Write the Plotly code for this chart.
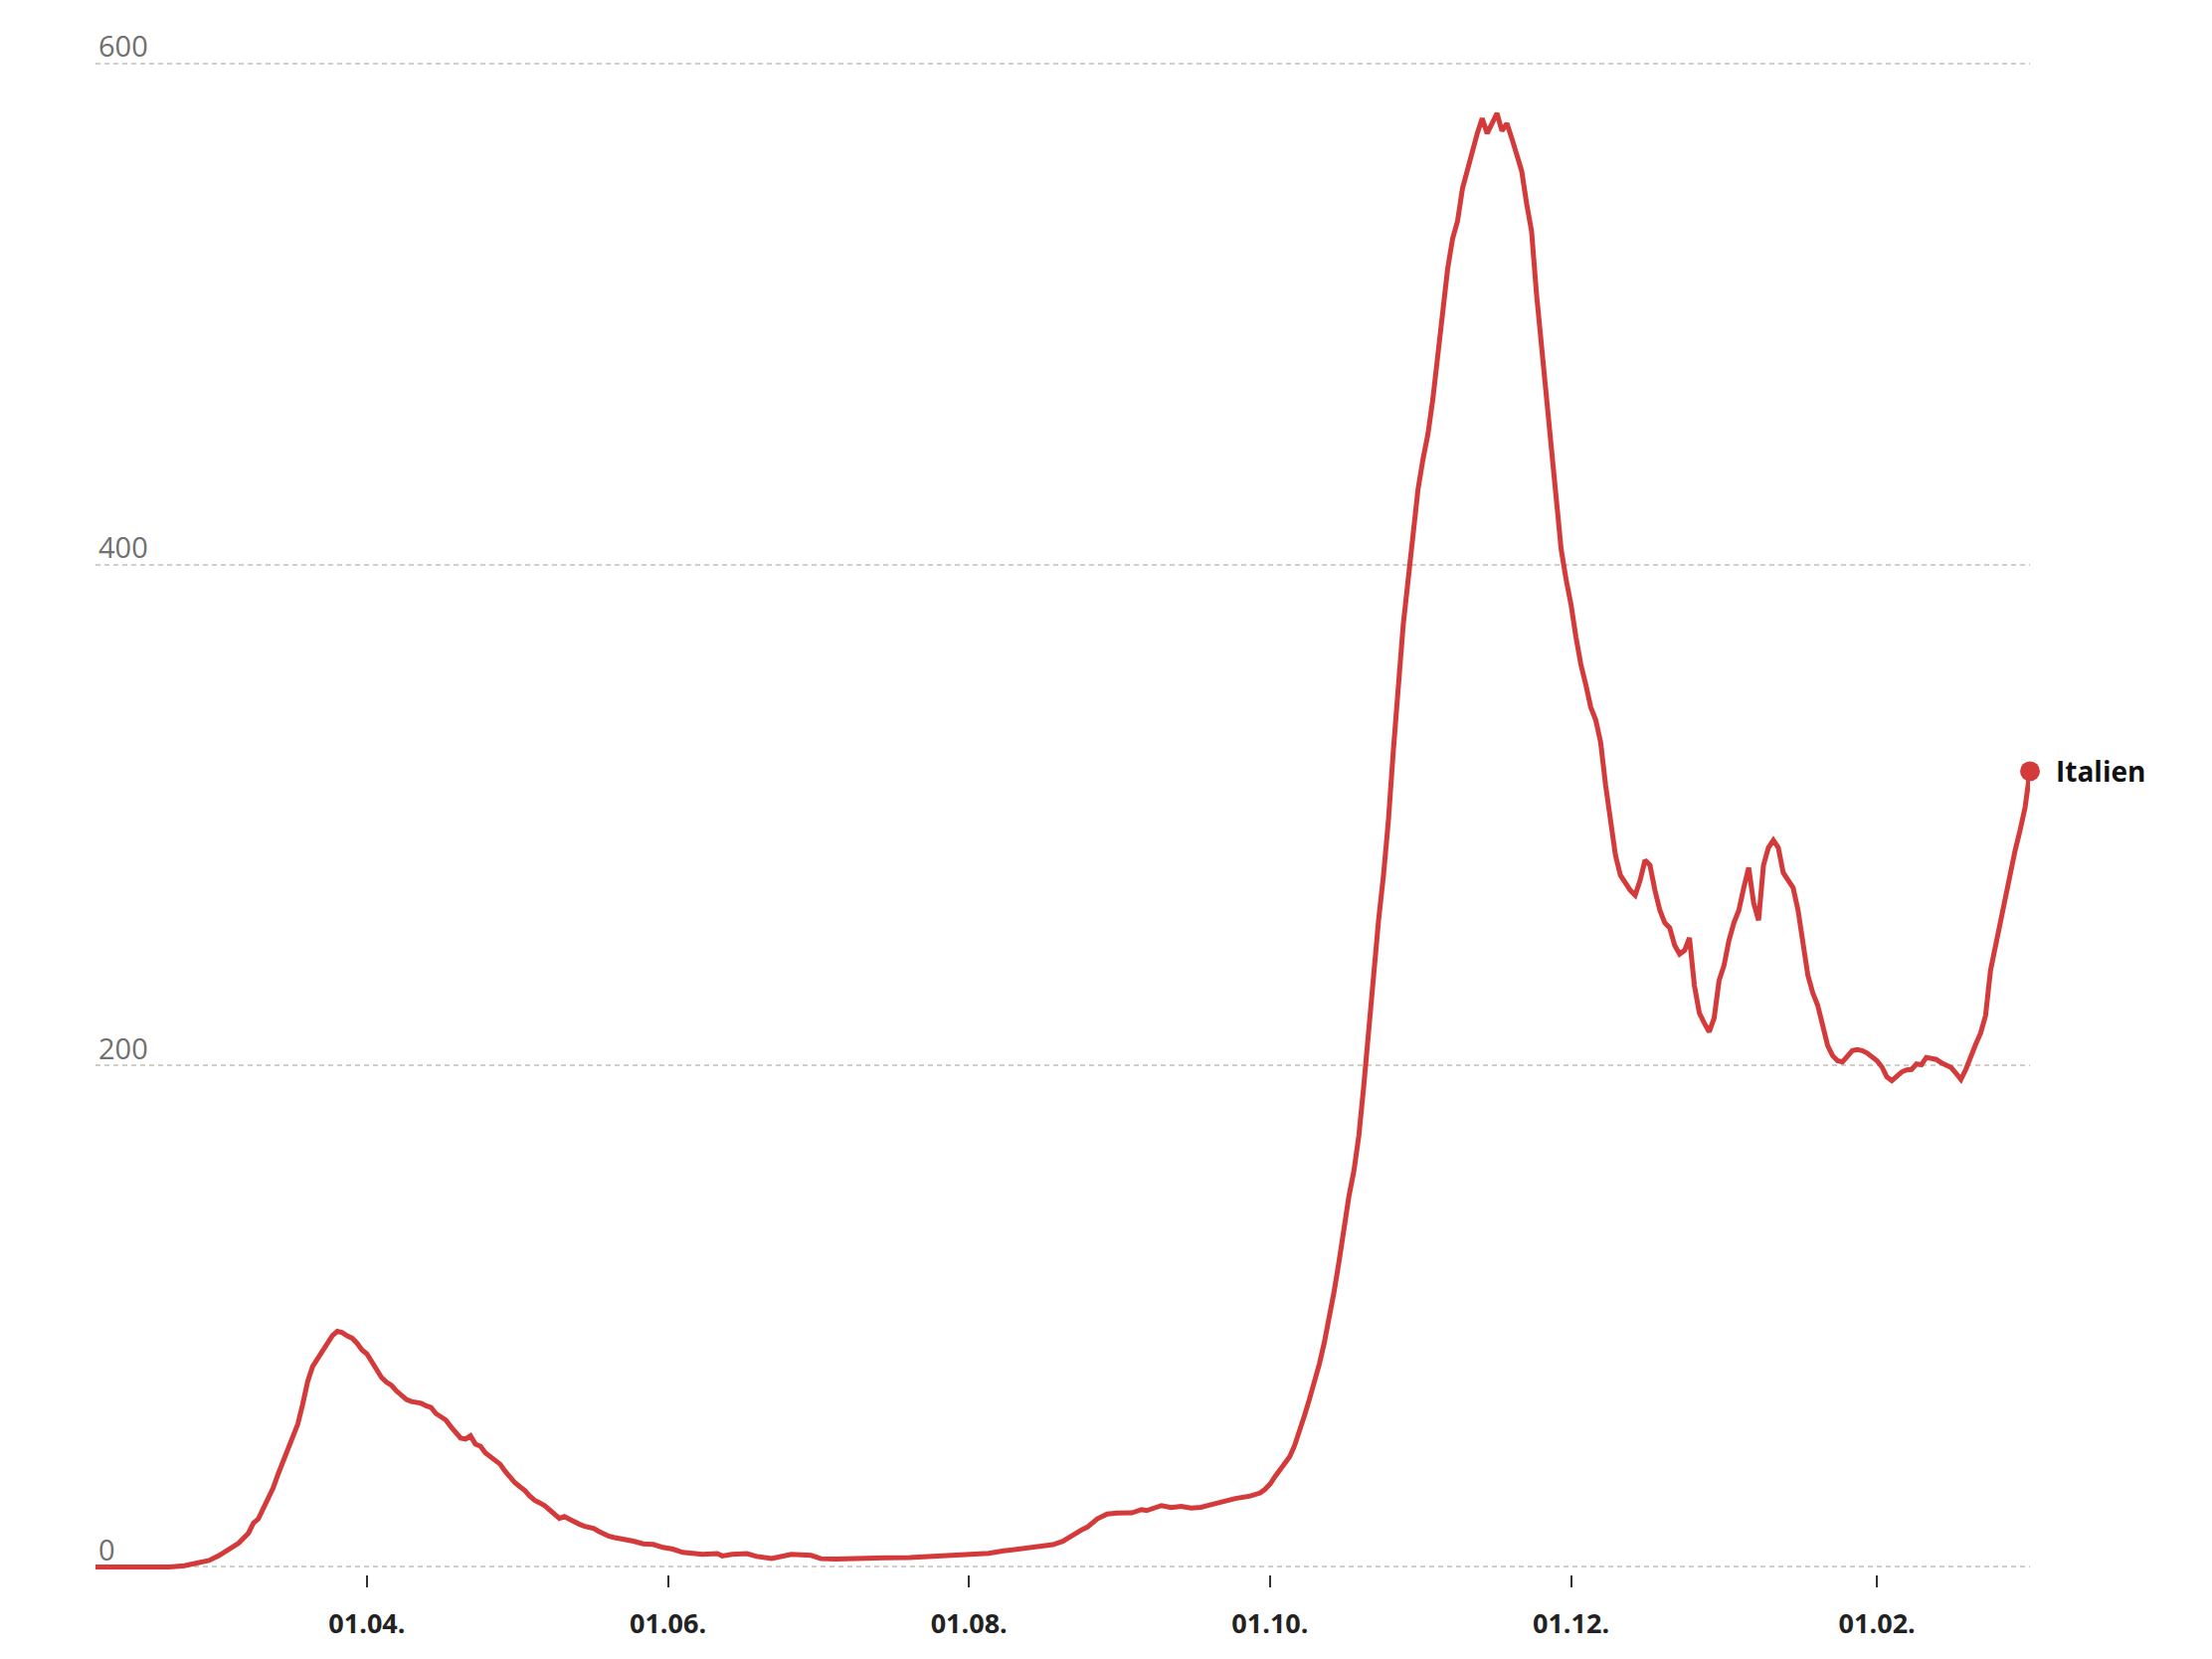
import plotly.graph_objects as go
import pandas as pd

# ---------------- data ----------------
base_date = "2020-04-01"  # day offset 0

day_offset = [
    -55, -45, -40, -37, -34, -32, -30, -28, -26, -24, -23, -22, -20, -19, -18,
    -17, -16, -15, -14, -13, -12, -11, -10, -9, -8, -7, -6, -5, -4, -3, -2, -1,
    0, 1, 2, 3, 4, 5, 6, 7, 8, 9, 10, 11, 12, 13, 14, 15, 16, 17, 18, 19, 20,
    21, 22, 23, 24, 25, 26, 27, 28, 29, 30, 31, 32, 33, 34, 35, 36, 37, 38, 39,
    40, 41, 42, 43, 44, 45, 46, 47, 48, 49, 50, 52, 54, 56, 58, 60, 62, 64, 66,
    68, 70, 71, 72, 74, 77, 79, 82, 84, 86, 90, 92, 95, 100, 105, 110, 113, 117,
    120, 124, 126, 129, 131, 134, 137, 139, 141, 143, 145, 146, 147, 148, 150,
    152, 155, 157, 158, 160, 161, 163, 165, 167, 169, 171, 173, 176, 179, 181,
    182,
    183, 184, 185, 186, 187, 188, 189, 190, 191, 192, 193, 194, 195, 196, 197,
    198, 199, 200, 201, 202, 203, 204, 205, 206, 207, 208, 209, 210, 211, 212,
    213, 214, 215, 216, 217, 218, 219, 220, 221, 222, 223, 224, 225, 226, 227,
    228, 229, 230, 231, 232, 233, 234, 235, 236, 237, 238, 239, 240, 241, 242,
    243, 244, 245, 246, 247, 248, 249, 250, 251, 252, 253, 254, 255, 256, 257,
    258, 259, 260, 261, 262, 263, 264, 265, 266, 267, 268, 269, 270, 271, 272,
    273, 274, 275, 276, 277, 278, 279, 280, 281, 282, 283, 284, 285, 286, 287,
    288, 289, 290, 291, 292, 293, 294, 295, 296, 297, 298, 299, 300, 301, 302,
    303, 304, 305, 306, 307, 308, 309, 310, 311, 312, 313, 314, 315, 316, 317,
    318, 319, 320, 321, 322, 323, 324, 325, 326, 327, 328, 329, 330, 331, 332,
    333, 334, 335, 336, 337,
]

incidence = [
    0, 0, 0, 0.5, 1.5, 2.6, 4.5, 6.8, 9.5, 13.5, 17.5, 19.2, 27.5, 31.5, 37,
    42, 46, 52, 57, 65, 74, 80, 83, 86, 89.5, 92.3, 94, 93.5, 92.2, 91.3, 89.3, 86.6,
    85, 82, 78.5, 75.5, 73.7, 72.4, 70.2, 68.2, 66.8, 66, 65.6, 65.3, 64.3, 63.6, 61.2, 60, 58.6, 56, 53.5, 51.4, 51,
    52.3, 49, 48.2, 45.5, 44, 42.8, 41, 38.2, 35.8, 33.6, 32, 30.5, 28.3, 26.6, 25.6, 24.5, 22.8, 21.1, 19.4,
    20.1, 19, 18, 17.1, 16.3, 15.8, 15.3, 14.2, 13, 12.3, 11.8, 11.2, 10.3, 9.2, 9.0, 7.8, 7.1, 5.8, 5.2,
    5.0, 5.2, 5.3, 4.4, 5.0, 5.3, 4.2, 3.4, 4.2, 5.0, 4.6, 3.3, 3.2, 3.6, 3.6, 3.7, 4.1, 4.6,
    5.0, 5.2, 5.4, 6.4, 7.0, 7.7, 8.6, 8.9, 10.2, 12.8, 15, 15.9, 17.5, 19.2, 21.1,
    21.5, 21.6, 22.9, 22.5, 23.6, 24.5, 23.7, 24.2, 23.5, 23.8, 24.8, 26, 27.3, 28.3, 29.5,
    31,
    33, 36, 38.5, 41, 44, 48.5, 54, 60.5, 67, 73.5, 81, 89.5, 99, 110, 122,
    136, 148, 158, 172, 192, 215, 238, 258, 276, 298, 326, 354, 376, 394, 414,
    430, 442, 452, 466, 484, 502, 518, 530, 537, 550, 558, 565, 572, 578, 572,
    576, 580, 573, 576, 570, 563, 557, 544, 533, 508, 488, 470, 448, 425, 406,
    394, 384, 371, 360, 352, 343, 338, 329, 312, 298, 284, 276, 273, 270, 268,
    274, 282, 280, 270, 262, 257, 255, 248, 244.5, 246, 251, 232, 221, 217, 213.5,
    219, 234, 240, 250, 257, 262, 271, 279, 265, 258, 280, 287, 290, 287, 277,
    274, 271, 262, 248, 236, 229, 224, 216, 208, 204, 202, 201.5, 204, 206, 206.4,
    206, 205, 203.5, 202, 199.5, 195.5, 194, 195.8, 197.5, 198.3, 198.5, 200.7, 200.4, 203.3, 202.7,
    202.5, 201.2, 200, 199.3, 197, 194.5, 198.5, 204, 208.5, 213, 220, 238, 248, 258, 268,
    277, 286, 294, 303, 317.5,
]

tick_dates = ["2020-04-01", "2020-06-01", "2020-08-01", "2020-10-01", "2020-12-01", "2021-02-01"]
tick_labels = ["01.04.", "01.06.", "01.08.", "01.10.", "01.12.", "01.02."]
y_ticks = [0, 200, 400, 600]
series_name = "Italien"

# ---------------- styling ----------------
RED = "#d43a3a"
GRID = "#cfcfc8"
FONT = "Open Sans"

dates = pd.Timestamp(base_date) + pd.to_timedelta(day_offset, unit="D")

fig = go.Figure()
fig.add_trace(go.Scatter(
    x=dates, y=incidence, mode="lines",
    line=dict(color=RED, width=5),
    hoverinfo="skip", showlegend=False,
))
fig.add_trace(go.Scatter(
    x=[dates[-1]], y=[incidence[-1]], mode="markers",
    marker=dict(color=RED, size=20),
    cliponaxis=False, hoverinfo="skip", showlegend=False,
))
fig.add_annotation(
    x=dates[-1], y=incidence[-1], text=series_name,
    showarrow=False, xanchor="left", yanchor="middle", xshift=24,
    font=dict(family=FONT, size=28, color="#111111", weight=700),
)

fig.update_layout(
    width=2224, height=1668,
    margin=dict(l=96, r=183, t=56, b=85),
    paper_bgcolor="white", plot_bgcolor="white",
    xaxis=dict(
        range=[dates[0], dates[-1]],
        tickmode="array", tickvals=tick_dates, ticktext=tick_labels,
        ticks="outside", ticklen=12, tickwidth=2, tickcolor="#333333",
        showgrid=False, zeroline=False, showline=False,
        ticklabelstandoff=14,
        tickfont=dict(family=FONT, size=27, color="#222222", weight=700),
    ),
    yaxis=dict(
        range=[-3, 603],
        tickmode="array", tickvals=y_ticks,
        showgrid=True, gridcolor=GRID, gridwidth=2, griddash="5px,4px",
        zeroline=False, showline=False, ticks="",
        ticklabelposition="inside top", ticklabeloverflow="allow",
        ticklabelshift=4,
        tickfont=dict(family=FONT, size=29, color="#707070"),
    ),
)

fig.write_html(
    "out.html",
    config={"displayModeBar": False},
    post_script="document.body.style.margin='0';document.body.style.overflow='hidden';",
)
